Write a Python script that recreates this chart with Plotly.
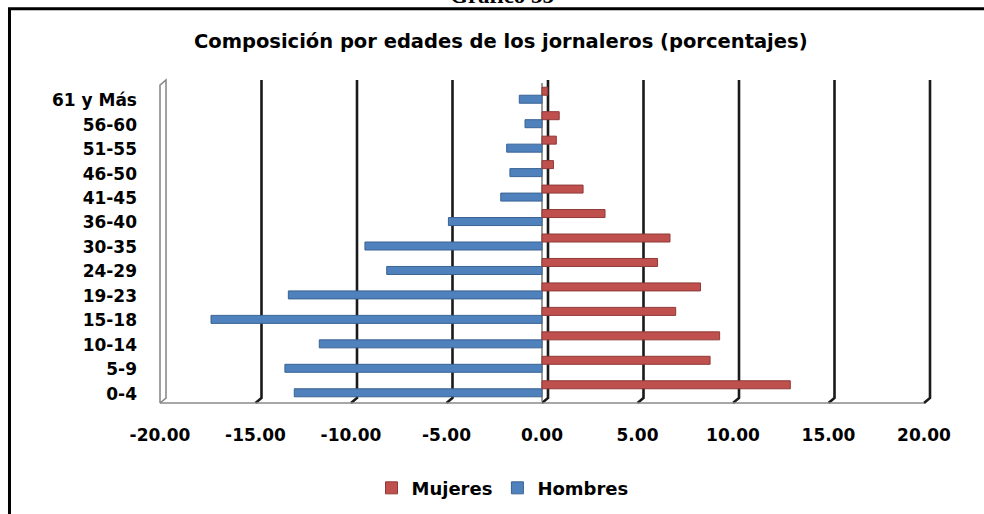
import plotly.graph_objects as go

# ---- data (bottom to top) ----
categories = ['0-4', '5-9', '10-14', '15-18', '19-23', '24-29', '30-35',
              '36-40', '41-45', '46-50', '51-55', '56-60', '61 y Más']
hombres = [-12.97, -13.46, -11.66, -17.33, -13.28, -8.13, -9.27,
           -4.90, -2.16, -1.68, -1.85, -0.89, -1.19]
mujeres = [13.00, 8.80, 9.30, 7.00, 8.30, 6.05, 6.70,
           3.30, 2.15, 0.60, 0.75, 0.90, 0.30]
tick_vals = [-20, -15, -10, -5, 0, 5, 10, 15, 20]
tick_text = ['-20.00', '-15.00', '-10.00', '-5.00', '0.00', '5.00', '10.00', '15.00', '20.00']

RED, RED_D = '#C0504D', '#8E3A38'
BLUE, BLUE_D = '#4F81BD', '#3A6393'
FONT = 'DejaVu Sans'
XMIN, XMAX = tick_vals[0], tick_vals[-1]
PLOT_W = 984 - 160 - 60

fig = go.Figure()
fig.add_trace(go.Bar(y=categories, x=hombres, orientation='h', name='Hombres',
                     marker=dict(color=BLUE, line=dict(color=BLUE_D, width=1)),
                     legendrank=2))
fig.add_trace(go.Bar(y=categories, x=mujeres, orientation='h', name='Mujeres',
                     marker=dict(color=RED, line=dict(color=RED_D, width=1)),
                     legendrank=1))


def px(v):
    """tick value -> paper x"""
    return (v - XMIN) / (XMAX - XMIN)


# ---- pseudo-3D back-plane gridlines, wall and floor ----
DX = 6 / PLOT_W      # depth offset in paper x (~6 px)
TOP_B = 1.0094       # back top (paper)
BOT_B = 0.0094       # back bottom
BOT_F = -0.0063      # front bottom
shapes = []
for t in tick_vals[1:]:
    p = px(t)
    shapes.append(dict(type='path', xref='paper', yref='paper', layer='below',
                       path=f'M {p+DX},{TOP_B} L {p+DX},{BOT_B} L {p},{BOT_F}',
                       line=dict(color='#1a1a1a', width=2.6)))
p0 = px(XMIN)
shapes.append(dict(type='path', xref='paper', yref='paper', layer='below',
                   path=f'M {p0},{BOT_F} L {p0},{TOP_B-0.016} L {p0+DX},{TOP_B} L {p0+DX},{BOT_B} L {p0},{BOT_F}',
                   line=dict(color='#8a8a8a', width=1.6)))
shapes.append(dict(type='line', xref='paper', yref='paper', layer='below',
                   x0=px(XMIN), x1=px(XMAX), y0=BOT_F, y1=BOT_F,
                   line=dict(color='#8a8a8a', width=1.6)))
# outer frame
shapes.append(dict(type='rect', xref='paper', yref='paper', layer='above',
                   x0=-0.197, x1=1.3, y0=-0.6, y1=1.2333,
                   line=dict(color='black', width=3)))

fig.update_layout(
    width=984, height=514,
    margin=dict(l=160, r=60, t=83, b=113, autoexpand=False),
    paper_bgcolor='white', plot_bgcolor='white',
    barmode='group', bargap=0.346, bargroupgap=0,
    shapes=shapes,
    title=dict(text='Composición por edades de los jornaleros (porcentajes)',
               x=0.446, xref='paper', xanchor='center',
               y=0.920, yref='container', yanchor='middle',
               font=dict(family=FONT, size=19.5, color='black', weight='bold')),
    xaxis=dict(range=[XMIN, XMAX], tickvals=tick_vals, ticktext=tick_text,
               showgrid=False, zeroline=True, zerolinecolor='#9a9a9a', zerolinewidth=2,
               showline=False, ticks='', ticklabelstandoff=22, automargin=False,
               tickfont=dict(family=FONT, size=17, color='black', weight='bold'),
               fixedrange=True),
    yaxis=dict(type='category', categoryorder='array', categoryarray=categories,
               showgrid=False, showline=False, zeroline=False, ticks='',
               ticklabelstandoff=22, ticklabelshift=5, automargin=False,
               tickfont=dict(family=FONT, size=17, color='black', weight='bold'),
               fixedrange=True),
    legend=dict(orientation='h', x=0.4483, xanchor='center', y=-0.274, yanchor='middle',
                font=dict(family=FONT, size=18, color='black', weight='bold'),
                bgcolor='rgba(0,0,0,0)'),
    annotations=[dict(text='<b>Gráfico 35</b>', xref='paper', yref='paper',
                      x=0.447, y=1.2296, xanchor='center', yanchor='bottom',
                      showarrow=False,
                      font=dict(family='Liberation Serif', size=23, color='black'))],
)

fig.write_html('out.html')
